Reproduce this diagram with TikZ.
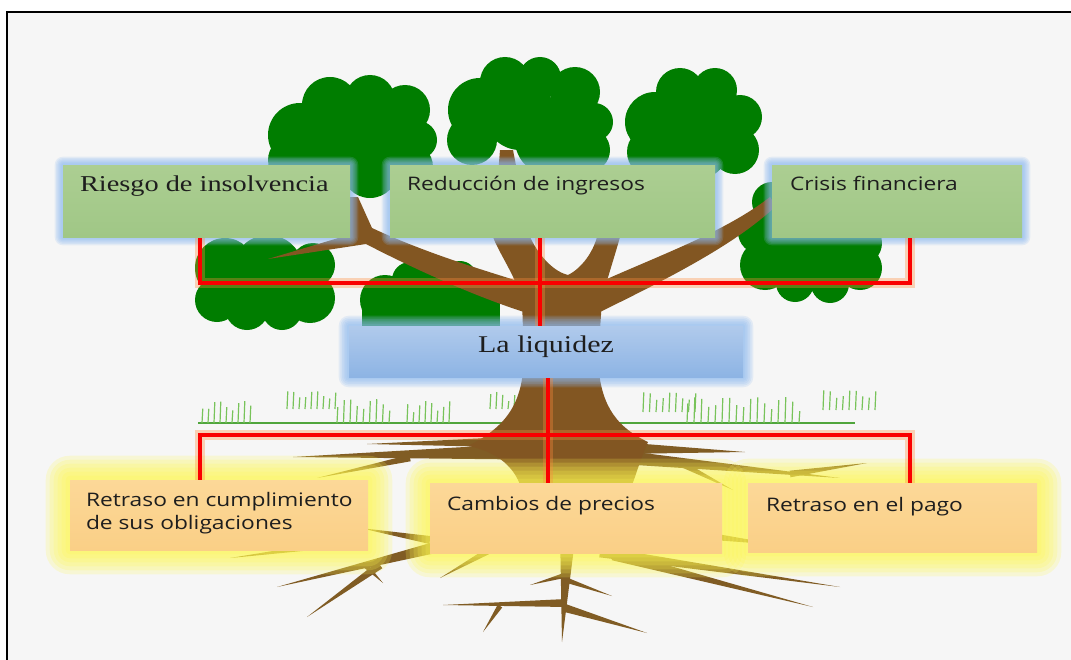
\documentclass[tikz,border=0pt]{standalone}
\usepackage{fontspec}
\setmainfont{Liberation Serif}
\newfontfamily\serifbox[FakeStretch=1.25]{Liberation Serif}
\newfontfamily\sansbox[FakeStretch=1.22]{Open Sans}
\usetikzlibrary{calc}
\pgfdeclarelayer{back}\pgfdeclarelayer{halo}
\pgfsetlayers{back,halo,main}
\definecolor{bgc}{RGB}{246,246,246}
\definecolor{leaf}{RGB}{0,125,0}
\definecolor{bark}{RGB}{130,86,34}
\definecolor{rootc}{RGB}{128,92,36}
\definecolor{grassc}{RGB}{120,195,90}
\definecolor{grassl}{RGB}{80,165,60}
\definecolor{gtop}{RGB}{172,206,146}
\definecolor{gbot}{RGB}{160,199,134}
\definecolor{btop}{RGB}{176,202,236}
\definecolor{bbot}{RGB}{141,180,228}
\definecolor{otop}{RGB}{252,216,152}
\definecolor{obot}{RGB}{250,207,134}
\definecolor{glowb}{RGB}{140,185,240}
\definecolor{glowy}{RGB}{255,250,80}
\definecolor{redc}{RGB}{250,0,0}
\definecolor{redglow}{RGB}{255,140,60}
\definecolor{txtc}{RGB}{30,30,30}
\tikzset{
  gbox/.style={rectangle, inner sep=0pt, top color=gtop, bottom color=gbot, text=txtc},
  bbox/.style={rectangle, inner sep=0pt, top color=btop, bottom color=bbot, text=txtc},
  obox/.style={rectangle, inner sep=0pt, top color=otop, bottom color=obot, text=txtc},
  redline/.style={draw=redc, line width=3.4pt, line join=miter},
  redhalo/.style={draw=redglow, line width=7pt, draw opacity=0.35, line join=miter},
  blade/.style={draw=grassc, line width=0.9pt},
}
% box text: width, height, left gap, top gap, text
\newcommand\boxtxt[5]{\parbox[c][#2][t]{#1}{\vspace*{#4}\raggedright\leftskip=#3\relax #5\par}}
\newcommand\spike[3]{\fill[rootc] ($(#1)!#3!90:(#2)$) -- (#2) -- ($(#1)!#3!-90:(#2)$) -- cycle;}
\newcommand\tuft[5]{\foreach \i in {0,...,#3}{\pgfmathsetmacro\hh{#5*(0.45+0.55*abs(sin(\i*137+#1)))}\draw[blade] ({#1+\i*#4},#2) -- ({#1+\i*#4+0.8},{#2-\hh});}}
\newcommand\halo[4]{\foreach \k in {1,...,6}{\pgfmathsetmacro\s{#3*\k/6}\pgfmathsetmacro\rr{\s*0.75}\fill[#2, opacity=#4, rounded corners=\rr pt] ([shift={(-\s,-\s)}]#1.north west) rectangle ([shift={(\s,\s)}]#1.south east);}}
\begin{document}
\begin{tikzpicture}[x=0.75pt,y=-0.75pt]
\useasboundingbox (0,0) rectangle (1071,660);

% ---------- boxes ----------
\node[gbox] (riesgo) at (206.5,201) {\boxtxt{215.25pt}{54pt}{12.75pt}{8.25pt}{\serifbox\fontsize{17}{20}\selectfont Riesgo de insolvencia}};
\node[gbox] (reduc) at (552.5,201) {\boxtxt{243.75pt}{54pt}{12.75pt}{8.25pt}{\sansbox\fontsize{14}{17}\selectfont Reducción de ingresos}};
\node[gbox] (crisis) at (897,201) {\boxtxt{187.5pt}{54pt}{13.5pt}{8.25pt}{\sansbox\fontsize{14}{17}\selectfont Crisis financiera}};
\node[bbox] (liq) at (546,351.5) {\parbox[c][38.25pt][t]{295.5pt}{\vspace*{7.6pt}\centering\serifbox\fontsize{18}{21}\selectfont La liquidez\par}};
\node[obox] (ret1) at (219,515) {\boxtxt{223.5pt}{52.5pt}{12pt}{9pt}{\sansbox\fontsize{14}{17.25}\selectfont Retraso en cumplimiento\\de sus obligaciones}};
\node[obox] (camb) at (576,518) {\boxtxt{219pt}{52.5pt}{12.75pt}{9.75pt}{\sansbox\fontsize{14}{17}\selectfont Cambios de precios}};
\node[obox] (ret2) at (892.5,517.5) {\boxtxt{216.75pt}{51.75pt}{13.5pt}{10.5pt}{\sansbox\fontsize{14}{17}\selectfont Retraso en el pago}};

% ---------- tree, background ----------
\begin{pgfonlayer}{back}
\fill[white] (0,0) rectangle (1071,660);
\fill[bgc] (7,12) rectangle (1071,660);
\draw[line width=1.6pt] (7,660) -- (7,12) -- (1071,12);

% canopies
\fill[leaf] (300,135) circle[radius=32] (330,105) circle[radius=28] (370,100) circle[radius=25]
  (405,110) circle[radius=25] (418,140) circle[radius=19] (408,167) circle[radius=25]
  (370,170) circle[radius=28] (322,170) circle[radius=28] (292,160) circle[radius=24] (360,135) circle[radius=40];
\fill[leaf] (480,110) circle[radius=32] (505,82) circle[radius=25] (540,78) circle[radius=21]
  (575,92) circle[radius=25] (594,122) circle[radius=19] (588,150) circle[radius=22]
  (550,140) circle[radius=35] (472,140) circle[radius=25] (520,115) circle[radius=35];
\fill[leaf] (655,122) circle[radius=30] (680,92) circle[radius=24] (715,90) circle[radius=22]
  (740,117) circle[radius=22] (735,150) circle[radius=24] (695,145) circle[radius=35] (652,152) circle[radius=25]
  (703,118) circle[radius=30];
\fill[leaf] (225,268) circle[radius=30] (217,300) circle[radius=22] (247,308) circle[radius=22]
  (282,310) circle[radius=20] (310,298) circle[radius=25] (313,265) circle[radius=22] (268,270) circle[radius=35];
\fill[leaf] (385,300) circle[radius=25] (410,280) circle[radius=18] (435,272) circle[radius=14]
  (460,278) circle[radius=17] (480,300) circle[radius=20] (430,300) circle[radius=26] (458,292) circle[radius=16];
\fill[leaf] (362,292) rectangle (500,330);
\fill[leaf] (772,202) circle[radius=20] (760,232) circle[radius=22] (765,265) circle[radius=25]
  (795,283) circle[radius=19] (830,284) circle[radius=19] (860,268) circle[radius=22]
  (860,243) circle[radius=22] (805,240) circle[radius=40] (835,262) circle[radius=24];

% grass
\draw[grassl, line width=1.2pt] (198,423) -- (855,423);
\tuft{202}{423}{8}{6}{22}
\tuft{337}{423}{8}{6.5}{24}
\tuft{407}{423}{7}{6}{22}
\tuft{687}{423}{16}{7}{26}
\tuft{287}{409}{8}{6}{18}
\tuft{490}{409}{5}{6}{17}
\tuft{643}{412}{8}{6.5}{20}
\tuft{823}{410}{8}{6.5}{20}

% roots
\spike{515,442}{367,444}{4pt}
\spike{505,452}{293,457}{5.5pt}
\spike{410,458}{317,478}{2.5pt}
\spike{620,448}{745,452}{4.5pt}
\spike{630,458}{840,478}{5pt}
\spike{790,474}{867,463}{2.5pt}
\spike{680,463}{733,490}{2.5pt}
\spike{430,540}{360,528}{3pt}
\spike{700,535}{780,545}{3pt}
\spike{567,550}{562,642}{5pt}
\spike{566,603}{443,605}{3pt}
\spike{500,606}{483,632}{2pt}
\spike{566,575}{530,585}{2pt}
\spike{566,580}{612,596}{2pt}
\spike{565,608}{647,633}{3pt}
\spike{490,550}{440,578}{2.5pt}
\spike{445,545}{277,587}{4.5pt}
\spike{380,565}{307,617}{3pt}
\spike{365,565}{383,583}{2pt}
\spike{330,545}{230,558}{2.5pt}
\spike{600,552}{840,587}{4pt}
\spike{613,555}{813,607}{4pt}

% branches and trunk
\fill[bark] (346,197) -- (358,197) -- (372,228) .. controls (430,255) and (490,272) .. (524,283)
  -- (524,312) .. controls (480,298) and (420,272) .. (366,244) -- (268,259) -- (345,236) -- cycle;
\fill[bark] (598,283) .. controls (660,255) and (725,232) .. (770,197) -- (776,206)
  .. controls (735,245) and (665,280) .. (600,312) -- cycle;
\fill[bark] (493,237) -- (500,150) -- (513,150) -- (530,237)
  .. controls (540,258) and (555,272) .. (568,275)
  .. controls (582,268) and (593,252) .. (597,237)
  -- (633,172) -- (642,178)
  -- (620,237) .. controls (613,262) and (606,282) .. (602,300)
  -- (598,360) .. controls (600,400) and (612,425) .. (648,442)
  .. controls (640,460) and (636,475) .. (632,485)
  -- (520,485) .. controls (515,470) and (500,452) .. (468,446)
  .. controls (510,425) and (522,400) .. (524,360)
  -- (522,300) .. controls (515,275) and (500,255) .. cycle;
\end{pgfonlayer}

% ---------- glows and red connectors ----------
\begin{pgfonlayer}{halo}
\halo{riesgo}{glowb}{8}{0.18}
\halo{reduc}{glowb}{8}{0.18}
\halo{crisis}{glowb}{8}{0.18}
\halo{liq}{glowb}{10}{0.18}
\halo{ret1}{glowy}{24}{0.2}
\halo{camb}{glowy}{24}{0.2}
\halo{ret2}{glowy}{24}{0.2}

\coordinate (uL) at (200,283);
\coordinate (uC) at (540,283);
\coordinate (uR) at (910,283);
\coordinate (lL) at (200,435);
\coordinate (lC) at (548,435);
\coordinate (lR) at (910,435);
\foreach \st in {redhalo,redline}{
  \draw[\st] (riesgo.south -| uL) -- (uL) -- (uR) -- (crisis.south -| uR);
  \draw[\st] (reduc.south -| uC) -- (liq.north -| uC);
  \draw[\st] (ret1.north -| lL) -- (lL) -- (lR) -- (ret2.north -| lR);
  \draw[\st] (liq.south -| lC) -- (camb.north -| lC);
}
\end{pgfonlayer}
\end{tikzpicture}
\end{document}
